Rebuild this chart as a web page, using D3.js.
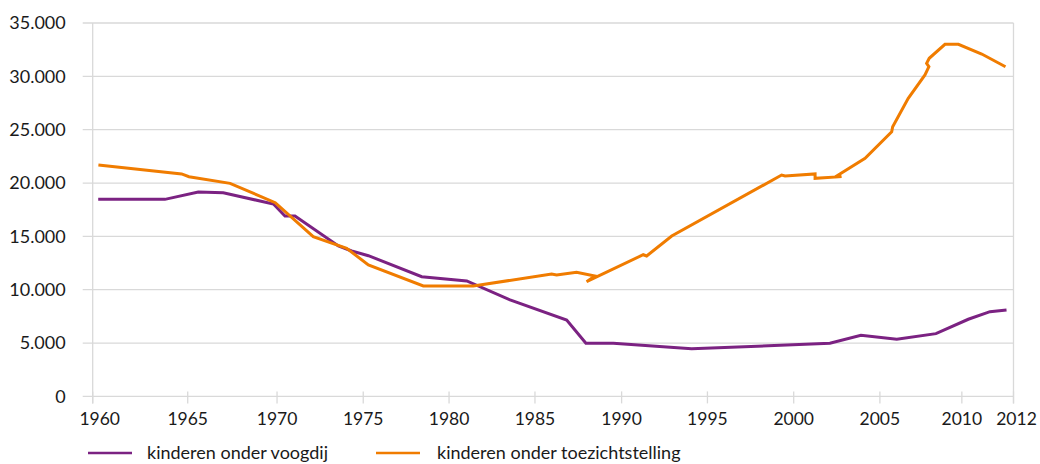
<!DOCTYPE html>
<html>
<head>
<meta charset="utf-8">
<script src="https://cdn.jsdelivr.net/npm/d3@7"></script>
<style>
  body { margin: 0; background: #fff; }
  text { font-family: Lato, "Open Sans", sans-serif; fill: #1a1a1a; }
</style>
</head>
<body>
<div class="chart"></div>
<script>
// data (year, number of children)
var voogdijYears = [1960.29, 1963.8, 1965.59, 1966.99, 1969.8, 1970.46, 1971.04, 1973.56, 1974.33, 1975.3,
  1978.41, 1981.03, 1983.55, 1986.83, 1987.94, 1989.52, 1994.08, 2002.1, 2003.9, 2006.03,
  2008.42, 2010.25, 2011.09, 2011.73];
var voogdijValues = [18470, 18470, 19160, 19090, 18030, 16910, 16910, 14100, 13630, 13190,
  11220, 10820, 9040, 7160, 4980, 4980, 4460, 4980, 5730, 5350,
  5880, 7230, 7940, 8100];

var toezichtYears = [1960.3, 1964.68, 1965.07, 1967.37, 1969.9, 1972.1, 1974.04, 1975.3, 1978.5, 1981.41,
  1985.96, 1986.25, 1987.4, 1988.46, 1987.98, 1991.26, 1991.46, 1992.92, 1999.3, 1999.5,
  2001.24, 2001.24, 2002.78, 2002.4, 2004.14, 2005.72, 2005.78, 2006.73, 2007.75, 2007.99,
  2007.85, 2008.01, 2008.97, 2009.79, 2010.77, 2011.69];
var toezichtValues = [21700, 20850, 20590, 19970, 18160, 14970, 13880, 12320, 10350, 10350,
  11470, 11380, 11630, 11290, 10750, 13280, 13160, 15030, 20750, 20660,
  20850, 20440, 20600, 20560, 22320, 24810, 25280, 27940, 30130, 30900,
  31220, 31690, 33000, 33000, 32090, 30900];

var seriesNames = ["kinderen onder voogdij", "kinderen onder toezichtstelling"];
var xTickYears = [1960, 1965, 1970, 1975, 1980, 1985, 1990, 1995, 2000, 2005, 2010, 2012];
var yTickValues = [0, 5000, 10000, 15000, 20000, 25000, 30000, 35000];

// set size of SVG
var svgWidth = 1040;
var svgHeight = 464;

var margin = { top: 23, right: 26.5, bottom: 67.6, left: 92.7 };
var width = svgWidth - margin.left - margin.right;
var height = svgHeight - margin.top - margin.bottom;

// the year axis is not evenly spaced in the original, so each tick gets its own spot
var tickSpots = [0, 0.1032, 0.2002, 0.2938, 0.387, 0.4803, 0.5744, 0.6676, 0.7613, 0.8549, 0.9439, 1];

var svg = d3.select(".chart")
  .append("svg")
  .attr("width", svgWidth)
  .attr("height", svgHeight);

var chartGroup = svg.append("g")
  .attr("transform", `translate(${margin.left}, ${margin.top})`);

var xScale = d3.scaleLinear()
  .domain(xTickYears)
  .range(tickSpots.map(f => f * width));

var yScale = d3.scaleLinear()
  .domain([0, 35000])
  .range([height, 0]);

// horizontal gridlines, they reach a bit left of the axis
chartGroup.selectAll(".grid")
  .data(yTickValues)
  .enter()
  .append("line")
  .attr("x1", -10)
  .attr("x2", width)
  .attr("y1", d => yScale(d))
  .attr("y2", d => yScale(d))
  .attr("stroke", "#d9d9d9")
  .attr("stroke-width", 1.3);

// left and right borders
[xTickYears[0], xTickYears[xTickYears.length - 1]].forEach(function (yr) {
  chartGroup.append("line")
    .attr("x1", xScale(yr))
    .attr("x2", xScale(yr))
    .attr("y1", 0)
    .attr("y2", height + 7)
    .attr("stroke", "#d9d9d9")
    .attr("stroke-width", 1.3);
});

// x ticks cross the base line
chartGroup.selectAll(".xtick")
  .data(xTickYears)
  .enter()
  .append("line")
  .attr("x1", d => xScale(d))
  .attr("x2", d => xScale(d))
  .attr("y1", height - 5)
  .attr("y2", height + 7)
  .attr("stroke", "#d9d9d9")
  .attr("stroke-width", 1.3);

chartGroup.selectAll(".xlabel")
  .data(xTickYears)
  .enter()
  .append("text")
  .attr("x", (d, i) => xScale(d) + (i === 0 ? 7 : 0) + (i === xTickYears.length - 1 ? 3 : 0))
  .attr("y", height + 28.8)
  .attr("text-anchor", "middle")
  .attr("font-size", "17.5px")
  .text(d => d);

var fmt = d => d === 0 ? "0" : d3.format(",")(d).replace(/,/g, ".");

chartGroup.selectAll(".ylabel")
  .data(yTickValues)
  .enter()
  .append("text")
  .attr("x", -27)
  .attr("y", d => yScale(d))
  .attr("dy", "0.35em")
  .attr("text-anchor", "end")
  .attr("font-size", "18px")
  .text(fmt);

// lines
var line = d3.line()
  .x(d => xScale(d[0]))
  .y(d => yScale(d[1]));

var voogdij = d3.zip(voogdijYears, voogdijValues);
var toezicht = d3.zip(toezichtYears, toezichtValues);
var colors = ["#7b2282", "#f07c00"];

chartGroup.append("path")
  .datum(voogdij)
  .attr("d", line)
  .attr("fill", "none")
  .attr("stroke", colors[0])
  .attr("stroke-width", 3);

chartGroup.append("path")
  .datum(toezicht)
  .attr("d", line)
  .attr("fill", "none")
  .attr("stroke", colors[1])
  .attr("stroke-width", 3);

// legend (kept just inside the bottom edge)
var legendSpots = [{ x: 88, tx: 147 }, { x: 376, tx: 437 }];
seriesNames.forEach(function (name, i) {
  svg.append("line")
    .attr("x1", legendSpots[i].x)
    .attr("x2", legendSpots[i].x + 44)
    .attr("y1", 453)
    .attr("y2", 453)
    .attr("stroke", colors[i])
    .attr("stroke-width", 2.5);
  svg.append("text")
    .attr("x", legendSpots[i].tx)
    .attr("y", 459)
    .attr("font-size", "18px")
    .text(name);
});
</script>
</body>
</html>
